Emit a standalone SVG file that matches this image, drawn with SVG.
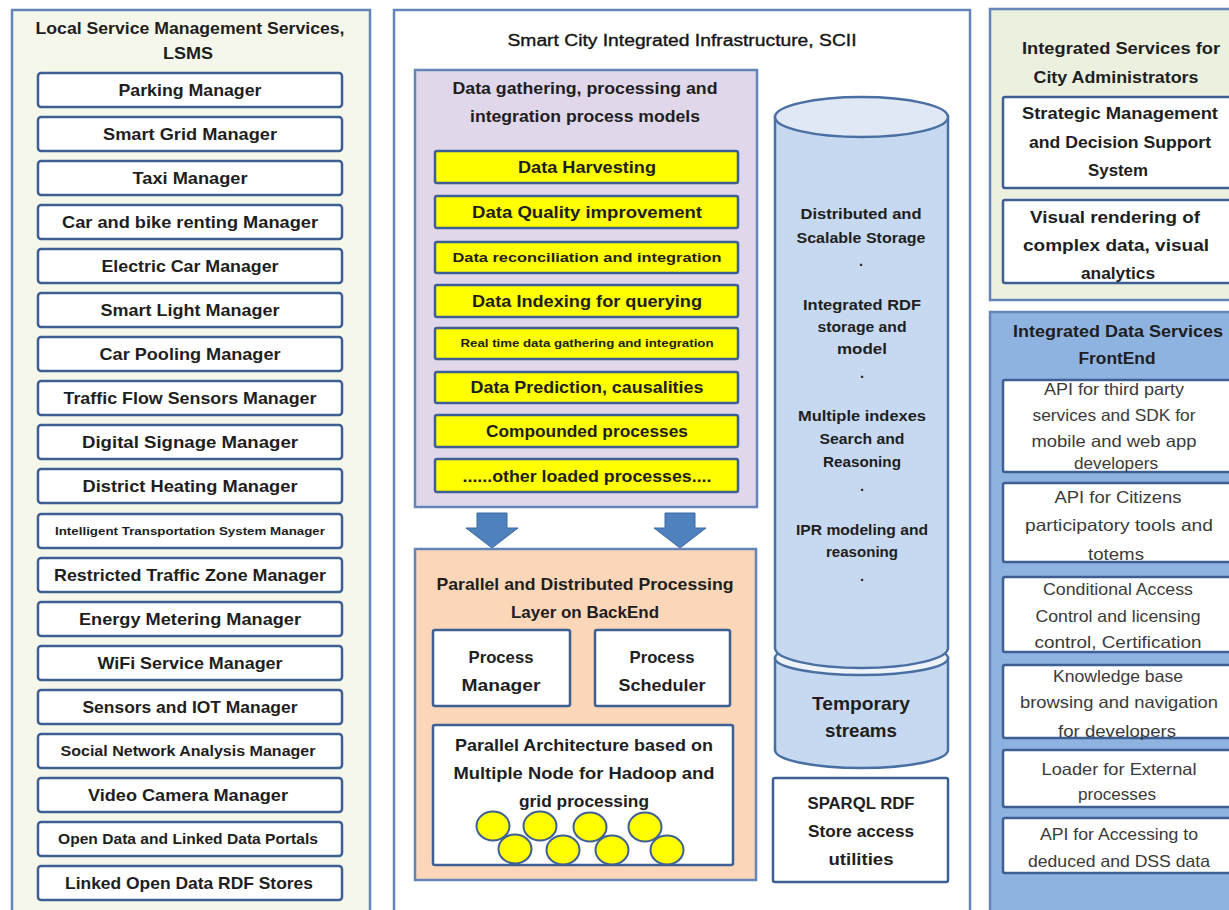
<svg xmlns="http://www.w3.org/2000/svg" width="1229" height="910" viewBox="0 0 1229 910">
<style>
text{font-family:"Liberation Sans",Arial,sans-serif;text-anchor:middle;fill:#1e1e1e}
.b{font-weight:bold;font-size:17px}
.t{font-weight:bold;font-size:16px}
.c{font-weight:bold;font-size:14.5px}
.r{font-weight:normal;font-size:16.5px;fill:#3a3a3a}
.box{fill:#fff;stroke:#3d5f94;stroke-width:2.5}
.ybox{fill:#ffff00;stroke:#3d5f94;stroke-width:2.5}
.cont{stroke:#6585b8;stroke-width:2.5}
.node{fill:#ffff00;stroke:#3d5f94;stroke-width:2}
.arrow{fill:#4f81bd;stroke:#3c6aa6;stroke-width:1}
.cyl{fill:#c6d9f0;stroke:#4a6fa3;stroke-width:2.5}
.cyltop{fill:#dfe8f4;stroke:#4a6fa3;stroke-width:2.5}
</style>
<rect width="1229" height="910" fill="#fff"/>

<!-- LEFT: LSMS -->
<g id="lsms">
<rect class="cont" x="12" y="10" width="358" height="915" fill="#f4f7ea"/>
<text class="t" x="190" y="34" textLength="309" lengthAdjust="spacingAndGlyphs">Local Service Management Services,</text>
<text class="t" x="188" y="59" textLength="50" lengthAdjust="spacingAndGlyphs">LSMS</text>
</g>
<g id="lsms-items">
<g id="n-parking"><rect class="box" x="38" y="73" width="304" height="34" rx="3"/><text class="b" x="190" y="96" textLength="143" lengthAdjust="spacingAndGlyphs">Parking Manager</text></g>
<g id="n-smartgrid"><rect class="box" x="38" y="117" width="304" height="34" rx="3"/><text class="b" x="190" y="140" textLength="174" lengthAdjust="spacingAndGlyphs">Smart Grid Manager</text></g>
<g id="n-taxi"><rect class="box" x="38" y="161" width="304" height="34" rx="3"/><text class="b" x="190" y="184" textLength="115" lengthAdjust="spacingAndGlyphs">Taxi Manager</text></g>
<g id="n-carbike"><rect class="box" x="38" y="205" width="304" height="34" rx="3"/><text class="b" x="190" y="228" textLength="256" lengthAdjust="spacingAndGlyphs">Car and bike renting Manager</text></g>
<g id="n-electric"><rect class="box" x="38" y="249" width="304" height="34" rx="3"/><text class="b" x="190" y="272" textLength="177" lengthAdjust="spacingAndGlyphs">Electric Car Manager</text></g>
<g id="n-light"><rect class="box" x="38" y="293" width="304" height="34" rx="3"/><text class="b" x="190" y="316" textLength="179" lengthAdjust="spacingAndGlyphs">Smart Light Manager</text></g>
<g id="n-pooling"><rect class="box" x="38" y="337" width="304" height="34" rx="3"/><text class="b" x="190" y="360" textLength="181" lengthAdjust="spacingAndGlyphs">Car Pooling Manager</text></g>
<g id="n-traffic"><rect class="box" x="38" y="381" width="304" height="34" rx="3"/><text class="b" x="190" y="404" textLength="253" lengthAdjust="spacingAndGlyphs">Traffic Flow Sensors Manager</text></g>
<g id="n-signage"><rect class="box" x="38" y="425" width="304" height="34" rx="3"/><text class="b" x="190" y="448" textLength="216" lengthAdjust="spacingAndGlyphs">Digital Signage Manager</text></g>
<g id="n-heating"><rect class="box" x="38" y="469" width="304" height="34" rx="3"/><text class="b" x="190" y="492" textLength="215" lengthAdjust="spacingAndGlyphs">District Heating Manager</text></g>
<g id="n-its"><rect class="box" x="38" y="514" width="304" height="34" rx="3"/><text class="b" x="190" y="535" style="font-size:11px" textLength="270" lengthAdjust="spacingAndGlyphs">Intelligent Transportation System Manager</text></g>
<g id="n-ztl"><rect class="box" x="38" y="558" width="304" height="34" rx="3"/><text class="b" x="190" y="581" textLength="272" lengthAdjust="spacingAndGlyphs">Restricted Traffic Zone Manager</text></g>
<g id="n-energy"><rect class="box" x="38" y="602" width="304" height="34" rx="3"/><text class="b" x="190" y="625" textLength="222" lengthAdjust="spacingAndGlyphs">Energy Metering Manager</text></g>
<g id="n-wifi"><rect class="box" x="38" y="646" width="304" height="34" rx="3"/><text class="b" x="190" y="669" textLength="185" lengthAdjust="spacingAndGlyphs">WiFi Service Manager</text></g>
<g id="n-iot"><rect class="box" x="38" y="690" width="304" height="34" rx="3"/><text class="b" x="190" y="713" textLength="215" lengthAdjust="spacingAndGlyphs">Sensors and IOT Manager</text></g>
<g id="n-social"><rect class="box" x="38" y="734" width="304" height="34" rx="3"/><text class="b" x="188" y="756" style="font-size:14.5px" textLength="255" lengthAdjust="spacingAndGlyphs">Social Network Analysis Manager</text></g>
<g id="n-video"><rect class="box" x="38" y="778" width="304" height="34" rx="3"/><text class="b" x="188" y="801" textLength="200" lengthAdjust="spacingAndGlyphs">Video Camera Manager</text></g>
<g id="n-opendata"><rect class="box" x="38" y="822" width="304" height="34" rx="3"/><text class="b" x="188" y="844" style="font-size:14.5px" textLength="260" lengthAdjust="spacingAndGlyphs">Open Data and Linked Data Portals</text></g>
<g id="n-lod"><rect class="box" x="38" y="866" width="304" height="34" rx="3"/><text class="b" x="189" y="889" textLength="248" lengthAdjust="spacingAndGlyphs">Linked Open Data RDF Stores</text></g>
</g>

<!-- MIDDLE: SCII -->
<g id="scii">
<rect class="cont" x="394" y="10" width="576" height="915" fill="#ffffff"/>
<text x="682" y="46" style="font-size:16px;fill:#151515;stroke:#151515;stroke-width:0.35" textLength="349" lengthAdjust="spacingAndGlyphs">Smart City Integrated Infrastructure, SCII</text>
</g>

<g id="process-models">
<rect class="cont" x="415" y="70" width="342" height="437" fill="#e0d7ea"/>
<text class="b" x="585" y="94" textLength="265" lengthAdjust="spacingAndGlyphs">Data gathering, processing and</text>
<text class="b" x="585" y="122" textLength="230" lengthAdjust="spacingAndGlyphs">integration process models</text>
</g>
<g id="process-items">
<g id="n-harvest"><rect class="ybox" x="435" y="151" width="303" height="32" rx="2"/><text class="b" x="587" y="173" textLength="138" lengthAdjust="spacingAndGlyphs">Data Harvesting</text></g>
<g id="n-quality"><rect class="ybox" x="435" y="196" width="303" height="32" rx="2"/><text class="b" x="587" y="218" textLength="230" lengthAdjust="spacingAndGlyphs">Data Quality improvement</text></g>
<g id="n-recon"><rect class="ybox" x="435" y="242" width="303" height="31" rx="2"/><text class="b" x="587" y="262" style="font-size:13.5px" textLength="269" lengthAdjust="spacingAndGlyphs">Data reconciliation and integration</text></g>
<g id="n-index"><rect class="ybox" x="435" y="285" width="303" height="32" rx="2"/><text class="b" x="587" y="307" textLength="230" lengthAdjust="spacingAndGlyphs">Data Indexing for querying</text></g>
<g id="n-realtime"><rect class="ybox" x="435" y="328" width="303" height="31" rx="2"/><text class="b" x="587" y="347" style="font-size:10.5px" textLength="253" lengthAdjust="spacingAndGlyphs">Real time data gathering and integration</text></g>
<g id="n-predict"><rect class="ybox" x="435" y="372" width="303" height="31" rx="2"/><text class="b" x="587" y="393" textLength="233" lengthAdjust="spacingAndGlyphs">Data Prediction, causalities</text></g>
<g id="n-compound"><rect class="ybox" x="435" y="415" width="303" height="32" rx="2"/><text class="b" x="587" y="437" textLength="202" lengthAdjust="spacingAndGlyphs">Compounded processes</text></g>
<g id="n-other"><rect class="ybox" x="435" y="459" width="303" height="33" rx="2"/><text class="b" x="587" y="482" textLength="249" lengthAdjust="spacingAndGlyphs">......other loaded processes....</text></g>
</g>

<g id="connectors">
<path class="arrow" d="M477,513 L507,513 L507,528 L518,528 L492,548 L466,528 L477,528 Z"/>
<path class="arrow" d="M665,513 L695,513 L695,528 L706,528 L680,548 L654,528 L665,528 Z"/>
</g>

<g id="backend">
<rect class="cont" x="415" y="549" width="341" height="331" fill="#fbd6b8"/>
<text class="b" x="585" y="590" textLength="297" lengthAdjust="spacingAndGlyphs">Parallel and Distributed Processing</text>
<text class="b" x="585" y="618" textLength="148" lengthAdjust="spacingAndGlyphs">Layer on BackEnd</text>
</g>
<g id="n-pmanager"><rect class="box" x="433" y="630" width="137" height="76" rx="2"/><text class="b" x="501" y="663" textLength="65" lengthAdjust="spacingAndGlyphs">Process</text><text class="b" x="501" y="691" textLength="79" lengthAdjust="spacingAndGlyphs">Manager</text></g>
<g id="n-pscheduler"><rect class="box" x="595" y="630" width="135" height="76" rx="2"/><text class="b" x="662" y="663" textLength="65" lengthAdjust="spacingAndGlyphs">Process</text><text class="b" x="662" y="691" textLength="87" lengthAdjust="spacingAndGlyphs">Scheduler</text></g>
<g id="n-parallel">
<rect class="box" x="433" y="725" width="300" height="140" rx="2"/>
<text class="b" x="584" y="751" textLength="258" lengthAdjust="spacingAndGlyphs">Parallel Architecture based on</text>
<text class="b" x="584" y="779" textLength="261" lengthAdjust="spacingAndGlyphs">Multiple Node for Hadoop and</text>
<text class="b" x="584" y="807" textLength="130" lengthAdjust="spacingAndGlyphs">grid processing</text>
<ellipse class="node" cx="493" cy="826" rx="16.5" ry="14.5"/>
<ellipse class="node" cx="540" cy="826" rx="16.5" ry="14.5"/>
<ellipse class="node" cx="590" cy="827" rx="16.5" ry="14.5"/>
<ellipse class="node" cx="645" cy="827" rx="16.5" ry="14.5"/>
<ellipse class="node" cx="515" cy="849" rx="16.5" ry="14.5"/>
<ellipse class="node" cx="563" cy="850" rx="16.5" ry="14.5"/>
<ellipse class="node" cx="612" cy="850" rx="16.5" ry="14.5"/>
<ellipse class="node" cx="667" cy="850" rx="16.5" ry="14.5"/>
</g>

<g id="n-streams">
<path class="cyl" d="M775,658 L775,750 A86.5,18 0 0 0 948,750 L948,658 Z"/>
<ellipse class="cyltop" cx="861.5" cy="658" rx="86.5" ry="17" style="fill:#eef3fa"/>
<text class="b" x="861" y="710" style="font-size:18px" textLength="98" lengthAdjust="spacingAndGlyphs">Temporary</text>
<text class="b" x="861" y="737" style="font-size:18px" textLength="72" lengthAdjust="spacingAndGlyphs">streams</text>
</g>
<g id="n-storage">
<path class="cyl" d="M775,117 L775,648 A86.5,20 0 0 0 948,648 L948,117 Z"/>
<ellipse class="cyltop" cx="861.5" cy="117" rx="86.5" ry="20"/>
<text class="c" x="861" y="219" textLength="121" lengthAdjust="spacingAndGlyphs">Distributed and</text>
<text class="c" x="861" y="243" textLength="129" lengthAdjust="spacingAndGlyphs">Scalable Storage</text>
<text class="c" x="861" y="266">.</text>
<text class="c" x="862" y="310" textLength="118" lengthAdjust="spacingAndGlyphs">Integrated RDF</text>
<text class="c" x="862" y="332" textLength="89" lengthAdjust="spacingAndGlyphs">storage and</text>
<text class="c" x="862" y="354" textLength="50" lengthAdjust="spacingAndGlyphs">model</text>
<text class="c" x="862" y="378">.</text>
<text class="c" x="862" y="421" textLength="128" lengthAdjust="spacingAndGlyphs">Multiple indexes</text>
<text class="c" x="862" y="444" textLength="85" lengthAdjust="spacingAndGlyphs">Search and</text>
<text class="c" x="862" y="467" textLength="78" lengthAdjust="spacingAndGlyphs">Reasoning</text>
<text class="c" x="862" y="491">.</text>
<text class="c" x="862" y="535" textLength="132" lengthAdjust="spacingAndGlyphs">IPR modeling and</text>
<text class="c" x="862" y="557" textLength="72" lengthAdjust="spacingAndGlyphs">reasoning</text>
<text class="c" x="862" y="581">.</text>
</g>
<g id="n-sparql">
<rect class="box" x="773" y="778" width="175" height="104" rx="2"/>
<text class="t" x="861" y="809" textLength="107" lengthAdjust="spacingAndGlyphs">SPARQL RDF</text>
<text class="t" x="861" y="837" textLength="106" lengthAdjust="spacingAndGlyphs">Store access</text>
<text class="t" x="861" y="865" textLength="65" lengthAdjust="spacingAndGlyphs">utilities</text>
</g>

<!-- RIGHT TOP -->
<g id="admin">
<rect class="cont" x="990" y="9" width="260" height="291" fill="#ebf1de"/>
<text class="t" x="1121" y="54" textLength="198" lengthAdjust="spacingAndGlyphs">Integrated Services for</text>
<text class="t" x="1116" y="83" textLength="165" lengthAdjust="spacingAndGlyphs">City Administrators</text>
</g>
<g id="n-dss"><rect class="box" x="1003" y="97" width="250" height="91" rx="2"/>
<text class="b" x="1120" y="119" textLength="196" lengthAdjust="spacingAndGlyphs">Strategic Management</text>
<text class="b" x="1120" y="148" textLength="182" lengthAdjust="spacingAndGlyphs">and Decision Support</text>
<text class="b" x="1118" y="176" textLength="60" lengthAdjust="spacingAndGlyphs">System</text></g>
<g id="n-visual"><rect class="box" x="1003" y="200" width="250" height="83" rx="2"/>
<text class="b" x="1115" y="223" textLength="170" lengthAdjust="spacingAndGlyphs">Visual rendering of</text>
<text class="b" x="1116" y="251" textLength="186" lengthAdjust="spacingAndGlyphs">complex data, visual</text>
<text class="b" x="1118" y="279" textLength="74" lengthAdjust="spacingAndGlyphs">analytics</text></g>

<!-- RIGHT BOTTOM -->
<g id="frontend">
<rect class="cont" x="990" y="312" width="260" height="615" fill="#8eb3e0"/>
<text class="t" x="1118" y="337" textLength="210" lengthAdjust="spacingAndGlyphs">Integrated Data Services</text>
<text class="t" x="1117" y="364" textLength="77" lengthAdjust="spacingAndGlyphs">FrontEnd</text>
</g>
<g id="n-api3rd"><rect class="box" x="1003" y="380" width="250" height="92" rx="2"/>
<text class="r" x="1114" y="395" textLength="140" lengthAdjust="spacingAndGlyphs">API for third party</text>
<text class="r" x="1114" y="421" textLength="163" lengthAdjust="spacingAndGlyphs">services and SDK for</text>
<text class="r" x="1114" y="447" textLength="165" lengthAdjust="spacingAndGlyphs">mobile and web app</text>
<text class="r" x="1116" y="469" textLength="84" lengthAdjust="spacingAndGlyphs">developers</text></g>
<g id="n-citizens"><rect class="box" x="1003" y="483" width="250" height="79" rx="2"/>
<text class="r" x="1118" y="503" textLength="127" lengthAdjust="spacingAndGlyphs">API for Citizens</text>
<text class="r" x="1119" y="531" textLength="188" lengthAdjust="spacingAndGlyphs">participatory tools and</text>
<text class="r" x="1116" y="560" textLength="56" lengthAdjust="spacingAndGlyphs">totems</text></g>
<g id="n-access"><rect class="box" x="1003" y="577" width="250" height="75" rx="2"/>
<text class="r" x="1118" y="595" textLength="150" lengthAdjust="spacingAndGlyphs">Conditional Access</text>
<text class="r" x="1118" y="622" textLength="165" lengthAdjust="spacingAndGlyphs">Control and licensing</text>
<text class="r" x="1118" y="648" textLength="167" lengthAdjust="spacingAndGlyphs">control, Certification</text></g>
<g id="n-kb"><rect class="box" x="1003" y="665" width="250" height="73" rx="2"/>
<text class="r" x="1118" y="682" textLength="130" lengthAdjust="spacingAndGlyphs">Knowledge base</text>
<text class="r" x="1119" y="708" textLength="198" lengthAdjust="spacingAndGlyphs">browsing and navigation</text>
<text class="r" x="1117" y="737" textLength="118" lengthAdjust="spacingAndGlyphs">for developers</text></g>
<g id="n-loader"><rect class="box" x="1003" y="750" width="250" height="57" rx="2"/>
<text class="r" x="1119" y="775" textLength="155" lengthAdjust="spacingAndGlyphs">Loader for External</text>
<text class="r" x="1117" y="800" textLength="78" lengthAdjust="spacingAndGlyphs">processes</text></g>
<g id="n-dssapi"><rect class="box" x="1003" y="818" width="250" height="55" rx="2"/>
<text class="r" x="1119" y="840" textLength="158" lengthAdjust="spacingAndGlyphs">API for Accessing to</text>
<text class="r" x="1119" y="867" textLength="182" lengthAdjust="spacingAndGlyphs">deduced and DSS data</text></g>
</svg>
